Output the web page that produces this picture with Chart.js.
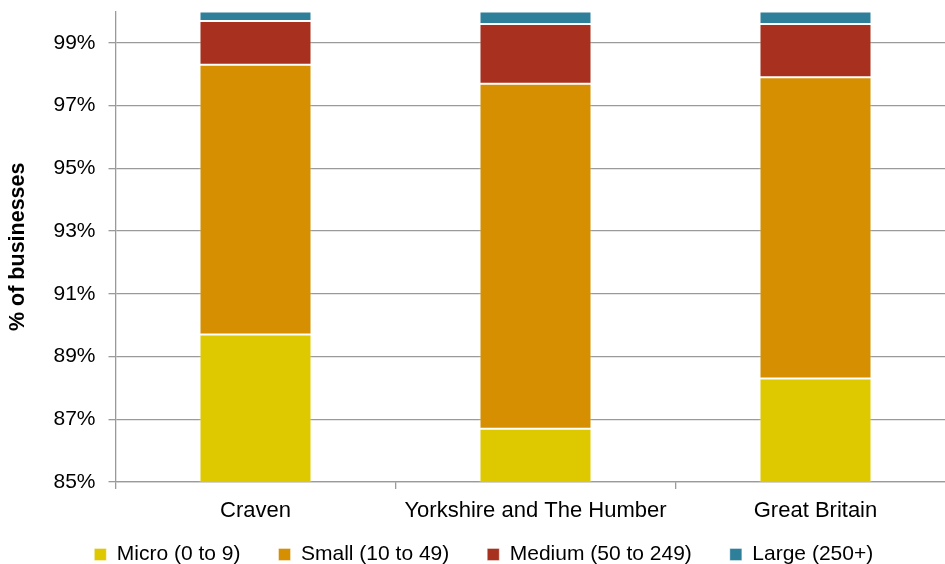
<!DOCTYPE html>
<html>
<head>
<meta charset="utf-8">
<script src="https://cdn.jsdelivr.net/npm/chart.js@4"></script>
<style>
  html, body { margin: 0; padding: 0; background: #fff; overflow: hidden; }
  #wrap { position: absolute; left: 0; top: 0; width: 960px; height: 594px; }
</style>
</head>
<body>
<div id="wrap"><canvas id="chart" width="960" height="594"></canvas></div>
<script>
// Business size bands by area, share of all businesses (%)
const categories = ['Craven', 'Yorkshire and The Humber', 'Great Britain'];
const micro  = [89.7, 86.7, 88.3];
const small  = [8.6, 11.0, 9.6];
const medium = [1.4, 1.9, 1.7];
const large  = [0.3, 0.4, 0.4];
const yTicks = [85, 87, 89, 91, 93, 95, 97, 99];

const FONT = '"Liberation Sans", Arial, sans-serif';
const GRID = '#9a9a9a';

function series(label, data, color) {
  return {
    label, data,
    backgroundColor: color,
    borderColor: 'rgba(255,255,255,0.4)',
    borderWidth: 1,
    borderSkipped: false,
    categoryPercentage: 0.8,
    barPercentage: 0.5
  };
}

// Pull the legend row up closer to the category labels while keeping
// the wide horizontal spacing between legend items.
const legendLift = {
  id: 'legendLift',
  afterLayout(chart) {
    const lg = chart.legend;
    if (!lg) return;
    const dy = 19, dx = 6;
    lg.top -= dy;
    lg.bottom -= dy;
    lg.left += dx;
    lg.right += dx;
  }
};

new Chart(document.getElementById('chart'), {
  type: 'bar',
  data: {
    labels: categories,
    datasets: [
      series('Micro (0 to 9)', micro, '#dec800'),
      series('Small (10 to 49)', small, '#d68f00'),
      series('Medium (50 to 249)', medium, '#a8301e'),
      series('Large (250+)', large, '#2e7f9a')
    ]
  },
  plugins: [legendLift],
  options: {
    responsive: false,
    animation: false,
    layout: { padding: { top: 11.5, left: 0, right: 4.5, bottom: 0 } },
    plugins: {
      tooltip: { enabled: false },
      legend: {
        position: 'bottom',
        labels: {
          boxWidth: 12, boxHeight: 12, padding: 38,
          color: '#000',
          font: { family: FONT, size: 21 }
        }
      }
    },
    scales: {
      x: {
        stacked: true,
        offset: true,
        grid: {
          display: true, drawOnChartArea: false, drawTicks: true,
          tickLength: 7, color: GRID, lineWidth: 1.3, offset: true
        },
        border: { display: true, color: GRID, width: 1.3 },
        ticks: { color: '#000', font: { family: FONT, size: 22 }, padding: 9, maxRotation: 0 },
        afterFit(scale) {
          scale.height = 43;
          scale.paddingLeft = 0;
          scale.paddingRight = 0;
        }
      },
      y: {
        stacked: true,
        min: 85,
        max: 100,
        afterBuildTicks(scale) {
          scale.ticks = yTicks.map(v => ({ value: v }));
        },
        grid: { color: GRID, lineWidth: 1.3, tickLength: 7, drawTicks: true },
        border: { display: true, color: GRID, width: 1.3 },
        ticks: {
          color: '#000', padding: 13,
          font: { family: FONT, size: 21 },
          callback: v => v + '%'
        },
        title: {
          display: true,
          text: '% of businesses',
          color: '#000',
          font: { family: FONT, size: 21.5, weight: 'bold' },
          padding: { top: 5, bottom: 0 }
        },
        afterFit(scale) {
          scale.width = 115.5;
          scale.paddingTop = 0;
          scale.paddingBottom = 0;
        }
      }
    }
  }
});
</script>
</body>
</html>
